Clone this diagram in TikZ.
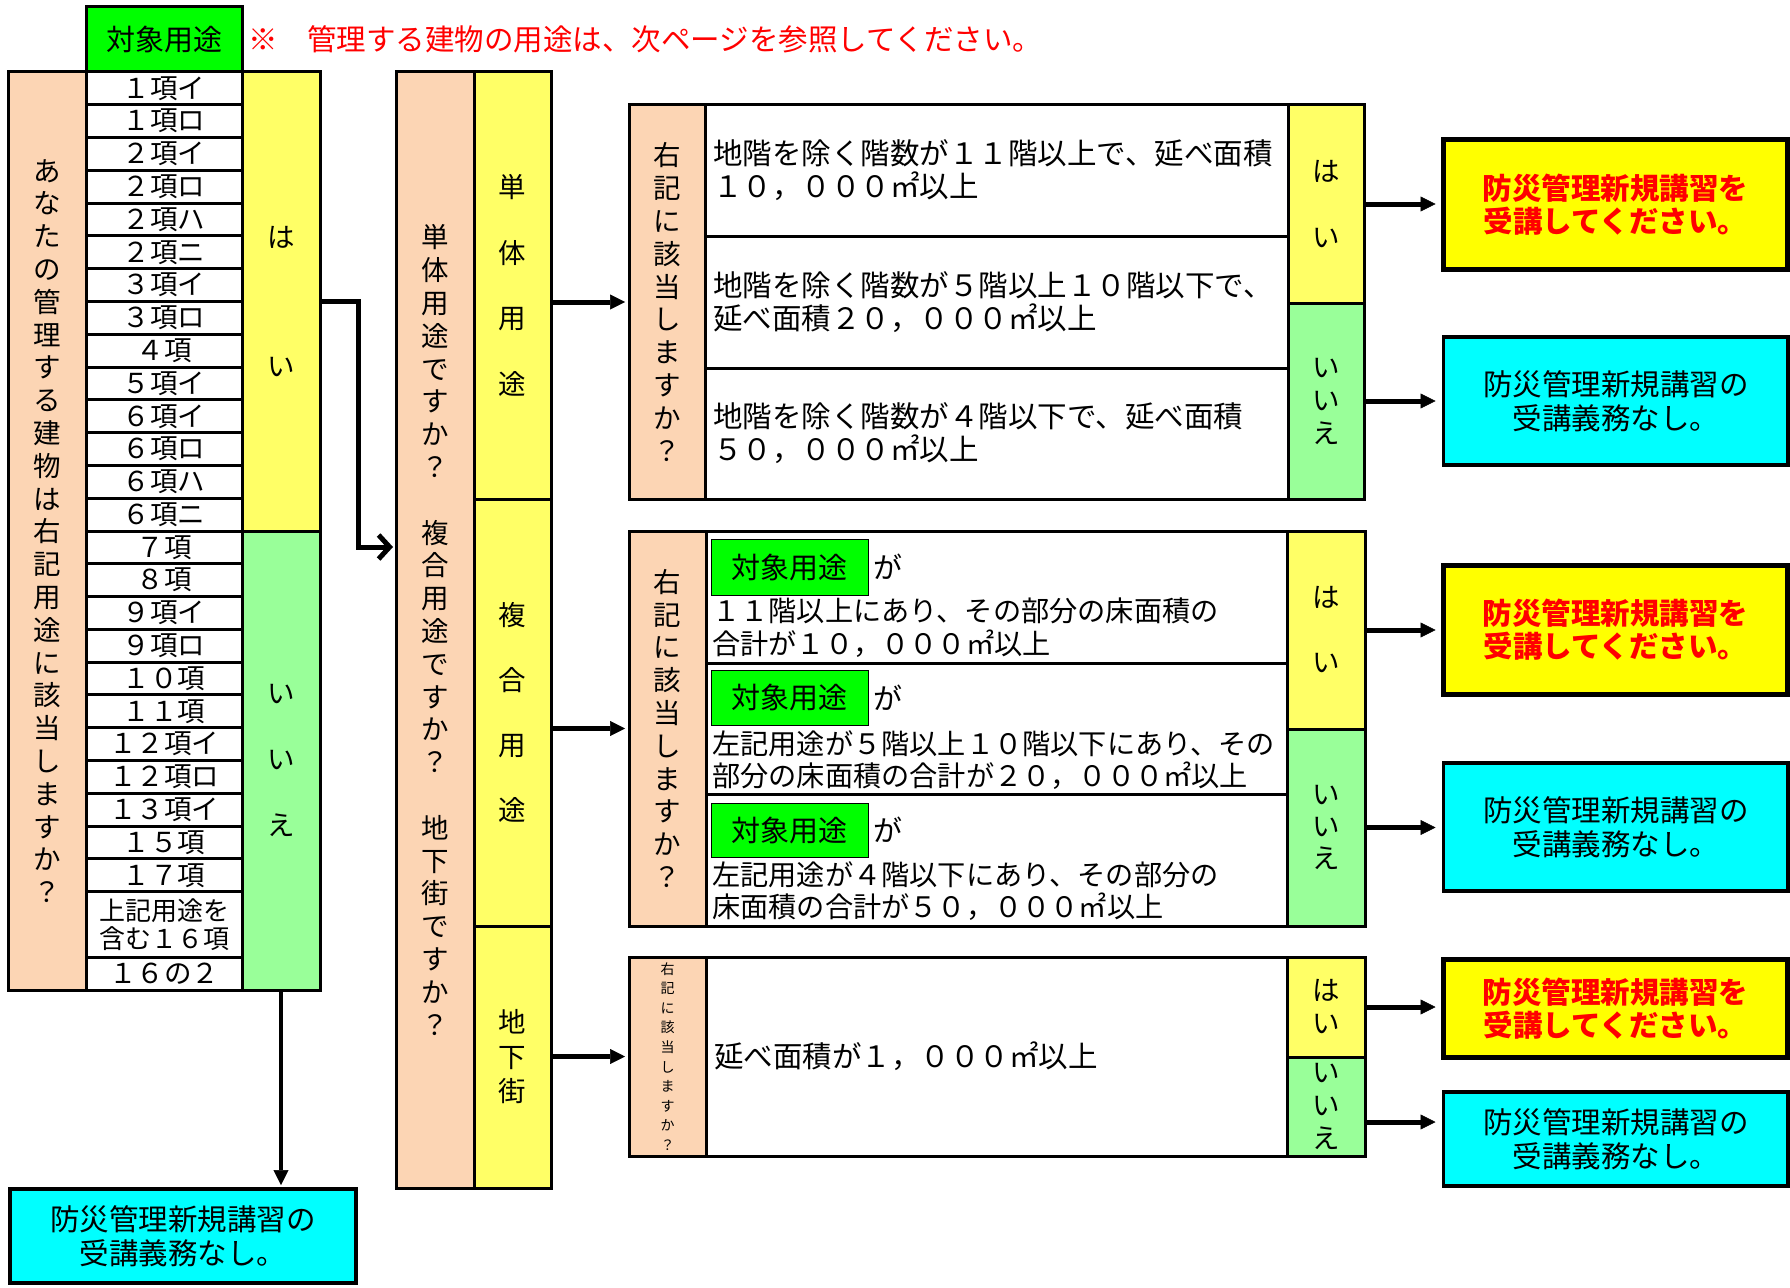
\documentclass[tikz,border=0pt]{standalone}
\usepackage{fontspec}
\setmainfont{Noto Sans CJK JP}
\usetikzlibrary{arrows.meta}
\definecolor{peach}{HTML}{FCD5B4}
\definecolor{lyellow}{HTML}{FFFF66}
\definecolor{lgreen}{HTML}{99FF99}
\definecolor{hgreen}{HTML}{00FF00}
\definecolor{rcyan}{HTML}{00FFFF}
\definecolor{ryellow}{HTML}{FFFF00}
\definecolor{rred}{HTML}{FF0000}
\makeatletter
\newcommand\vstk[1]{\vstk@a#1\vstk@end}
\def\vstk@a#1#2\vstk@end{#1\ifx\relax#2\relax\expandafter\@gobble\else\expandafter\@firstofone\fi{\\\vstk@a#2\vstk@end}}
\makeatother
\newcommand\bx[7]{\node[#2,minimum width={((#5)-(#3))*1pt},minimum height={((#6)-(#4))*1pt}] (#1) at ({((#3)+(#5))/2},{((#4)+(#6))/2}) {#7};}
\tikzset{
 cell/.style={draw, line width=3pt, inner sep=0pt, outer sep=0pt, rectangle, align=center},
 pch/.style={cell, fill=peach},
 yel/.style={cell, fill=lyellow},
 grn/.style={cell, fill=lgreen},
 wht/.style={cell, fill=white},
 hdrbox/.style={cell, fill=hgreen},
 tag/.style={draw=black, line width=1pt, fill=hgreen, inner sep=0pt, outer sep=0pt, rectangle, font=\fontsize{29}{29}\selectfont},
 yesres/.style={draw, line width=5pt, fill=ryellow, inner sep=0pt, outer sep=0pt, align=center, text=rred, font=\fontsize{29.5}{33}\selectfont\bfseries},
 nores/.style={draw, line width=3.5pt, fill=rcyan, inner sep=0pt, outer sep=0pt, align=center, font=\fontsize{29.5}{34}\selectfont},
 arr/.style={line width=5pt, -{Triangle[length=15pt,width=15pt,line width=0.5pt]}, shorten >=4pt},
 barb/.style={line width=5pt, -{Straight Barb[length=11pt,width=24pt]}, shorten >=3pt},
 lbl/.style={anchor=west, inner sep=0pt, align=left},
 f27/.style={font=\fontsize{27.5}{#1}\selectfont},
}
\begin{document}
\begin{tikzpicture}[x=1pt,y=-1pt]
\useasboundingbox (0,0) rectangle (1790,1287);
% ---------- left table ----------
\bx{hdr}{hdrbox,font=\fontsize{29}{29}\selectfont}{86}{7}{242}{72}{対象用途}
\node[anchor=west,inner sep=0pt,text=rred,font=\fontsize{29.5}{29.5}\selectfont] (note) at ([xshift=6pt]hdr.east) {※　管理する建物の用途は、次ページを参照してください。};
\bx{lq}{pch,f27=32.8}{8}{72}{86}{990}{\vstk{あなたの管理する建物は右記用途に該当しますか？}}
\bx{lyes}{yel,f27=129}{242}{72}{320}{531}{\vstk{はい}}
\bx{lno}{grn,f27=66}{242}{531}{320}{990}{\vstk{いいえ}}
\foreach \t [count=\i from 0] in {１項イ,１項ロ,２項イ,２項ロ,２項ハ,２項ニ,３項イ,３項ロ,４項,５項イ,６項イ,６項ロ,６項ハ,６項ニ,７項,８項,９項イ,９項ロ,１０項,１１項,１２項イ,１２項ロ,１３項イ,１５項,１７項}{
 \bx{r\i}{wht,f27=27}{86}{72+\i*32.786}{242}{72+(\i+1)*32.786}{\t}
}
\bx{r25}{wht,font=\fontsize{26}{28}\selectfont}{86}{72+25*32.786}{242}{72+27*32.786}{上記用途を\\含む１６項}
\bx{r26}{wht,f27=27}{86}{72+27*32.786}{242}{990}{１６の２}
\bx{nobox}{nores}{10}{1189}{356}{1283}{防災管理新規講習の\\受講義務なし。}
% ---------- middle table ----------
\bx{mq}{pch,f27=32.8}{396}{72}{474}{1188}{\vstk{単体用途ですか？　複合用途ですか？　地下街ですか？}}
\bx{msingle}{yel,f27=65.5}{474}{72}{551}{499}{\vstk{単体用途}}
\bx{mcomplex}{yel,f27=65}{474}{499}{551}{926}{\vstk{複合用途}}
\bx{munder}{yel,f27=34.5}{474}{926}{551}{1188}{\vstk{地下街}}
% ---------- table 1 ----------
\bx{t1q}{pch,f27=32.8}{629}{105}{705}{499}{\vstk{右記に該当しますか？}}
\bx{t1a}{wht}{705}{105}{1288}{236}{}
\bx{t1b}{wht}{705}{236}{1288}{368}{}
\bx{t1c}{wht}{705}{368}{1288}{499}{}
\bx{t1y}{yel,f27=66}{1288}{105}{1364}{303}{\vstk{はい}}
\bx{t1n}{grn,f27=33}{1288}{303}{1364}{499}{\vstk{いいえ}}
\node[lbl,font=\fontsize{29.5}{33}\selectfont] (t1at) at ([xshift=8pt]t1a.west) {地階を除く階数が１１階以上で、延べ面積\\１０，０００㎡以上};
\node[lbl,font=\fontsize{29.5}{33}\selectfont] (t1bt) at ([xshift=8pt]t1b.west) {地階を除く階数が５階以上１０階以下で、\\延べ面積２０，０００㎡以上};
\node[lbl,font=\fontsize{29.5}{33}\selectfont] (t1ct) at ([xshift=8pt]t1c.west) {地階を除く階数が４階以下で、延べ面積\\５０，０００㎡以上};
\bx{t1yes}{yesres}{1443.5}{139.5}{1787.5}{269.5}{防災管理新規講習を\\受講してください。}
\bx{t1no}{nores}{1443.5}{337}{1788}{465}{防災管理新規講習の\\受講義務なし。}
% ---------- table 2 ----------
\bx{t2q}{pch,f27=32.8}{629}{531}{706}{926}{\vstk{右記に該当しますか？}}
\bx{t2a}{wht}{706}{531}{1287}{663}{}
\bx{t2b}{wht}{706}{663}{1287}{794}{}
\bx{t2c}{wht}{706}{794}{1287}{926}{}
\bx{t2y}{yel,f27=65}{1287}{531}{1365}{729}{\vstk{はい}}
\bx{t2n}{grn,f27=32}{1287}{729}{1365}{926}{\vstk{いいえ}}
\bx{t2g1}{tag}{711}{539}{868}{595}{対象用途}
\bx{t2g2}{tag}{711}{670}{868}{725}{対象用途}
\bx{t2g3}{tag}{711}{803}{868}{857}{対象用途}
\node[lbl,font=\fontsize{29}{29}\selectfont] (t2ga) at ([xshift=5pt]t2g1.east) {が};
\node[lbl,font=\fontsize{29}{29}\selectfont] (t2gb) at ([xshift=5pt]t2g2.east) {が};
\node[lbl,font=\fontsize{29}{29}\selectfont] (t2gc) at ([xshift=5pt]t2g3.east) {が};
\node[lbl,font=\fontsize{28.2}{33}\selectfont] (t2at) at (712,627.5) {１１階以上にあり、その部分の床面積の\\合計が１０，０００㎡以上};
\node[lbl,font=\fontsize{28.2}{32}\selectfont] (t2bt) at (712,760.5) {左記用途が５階以上１０階以下にあり、その\\部分の床面積の合計が２０，０００㎡以上};
\node[lbl,font=\fontsize{28.2}{32}\selectfont] (t2ct) at (712,891) {左記用途が４階以下にあり、その部分の\\床面積の合計が５０，０００㎡以上};
\bx{t2yes}{yesres}{1443.5}{565.5}{1787.5}{694.5}{防災管理新規講習を\\受講してください。}
\bx{t2no}{nores}{1443.5}{763}{1788}{891}{防災管理新規講習の\\受講義務なし。}
% ---------- table 3 ----------
\bx{t3q}{pch,font=\fontsize{14}{19.6}\selectfont}{629}{957}{706}{1156}{\vstk{右記に該当しますか？}}
\bx{t3a}{wht}{706}{957}{1287}{1156}{}
\node[lbl,font=\fontsize{29.5}{33}\selectfont] (t3at) at ([xshift=8pt]t3a.west) {延べ面積が１，０００㎡以上};
\bx{t3y}{yel,f27=33}{1287}{957}{1365}{1057}{\vstk{はい}}
\bx{t3n}{grn,f27=33}{1287}{1057}{1365}{1156}{\vstk{いいえ}}
\bx{t3yes}{yesres}{1443.5}{959.5}{1787.5}{1057.5}{防災管理新規講習を\\受講してください。}
\bx{t3no}{nores}{1443.5}{1092}{1788}{1186}{防災管理新規講習の\\受講義務なし。}
% ---------- connectors ----------
\draw[arr,line width=4pt] (lno.south) -- (lno.south |- nobox.north);
\coordinate (elb) at (358,547);
\draw[barb] (lyes.east) -| (elb) -- (elb -| mq.west);
\draw[arr] (msingle.east |- t1q.west) -- (t1q.west);
\draw[arr] (mcomplex.east |- t2q.west) -- (t2q.west);
\draw[arr] (munder.east |- t3q.west) -- (t3q.west);
\draw[arr,shorten >=8pt] (t1y.east) -- (t1y.east -| t1yes.west);
\draw[arr,shorten >=8pt] (t1n.east) -- (t1n.east -| t1no.west);
\draw[arr,shorten >=8pt] (t2y.east) -- (t2y.east -| t2yes.west);
\draw[arr,shorten >=8pt] (t2n.east) -- (t2n.east -| t2no.west);
\draw[arr,shorten >=8pt] (t3y.east) -- (t3y.east -| t3yes.west);
\draw[arr,shorten >=8pt] ([yshift=-15.5pt]t3n.east) -- ([yshift=-15.5pt]t3n.east -| t3no.west);
\end{tikzpicture}
\end{document}
